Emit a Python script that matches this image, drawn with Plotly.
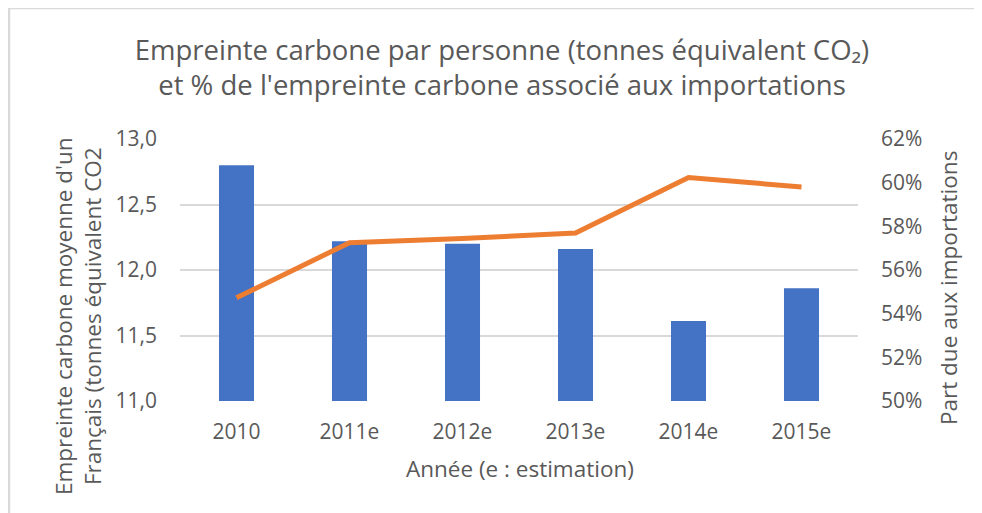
import plotly.graph_objects as go

annees = ["2010", "2011e", "2012e", "2013e", "2014e", "2015e"]
empreinte = [12.80, 12.22, 12.20, 12.16, 11.61, 11.86]
part_importations = [0.5473, 0.5725, 0.5744, 0.5769, 0.6024, 0.5980]

# the page body has an 8px default margin, so the figure is drawn at (8, 8)
W, H = 974, 505
L, R, T, B = 172, 124, 131, 112
pw, ph = W - L - R, H - T - B

FONT = "Open Sans"
GREY = "#595959"


def px(x):
    return (x - L) / pw


def py(y):
    return (H - B - y) / ph


fig = go.Figure()
fig.add_trace(go.Bar(x=annees, y=empreinte, marker=dict(color="#4472C4", line=dict(width=0)),
                     yaxis="y", name="Empreinte"))
fig.add_trace(go.Scatter(x=annees, y=part_importations, mode="lines",
                         line=dict(color="#ED7D31", width=5), yaxis="y2", name="Part"))

fig.update_layout(
    width=W, height=H,
    margin=dict(l=L, r=R, t=T, b=B),
    paper_bgcolor="white", plot_bgcolor="white",
    separators=", ",
    showlegend=False,
    bargap=0.69,
    font=dict(family=FONT, color=GREY, size=21),
    title=dict(
        text="Empreinte carbone par personne (tonnes équivalent CO₂)<br>et % de l'empreinte carbone associé aux importations",
        x=494 / W, xanchor="center", y=1 - 51.5 / H, yanchor="middle",
        font=dict(family=FONT, size=27.5, color=GREY),
    ),
    xaxis=dict(showgrid=False, showline=False, ticks="", tickfont=dict(size=21, color=GREY),
               ticklabelstandoff=16),
    yaxis=dict(range=[11, 13], dtick=0.5, tick0=11, tickformat=".1f", showgrid=True,
               gridcolor="#d9d9d9", gridwidth=1.5, zeroline=False, showline=False, ticks="",
               ticklabelstandoff=22, tickfont=dict(size=21, color=GREY)),
    yaxis2=dict(range=[0.50, 0.62], dtick=0.02, tick0=0.5, tickformat=".0%", overlaying="y",
                side="right", showgrid=False, zeroline=False, showline=False, ticks="",
                ticklabelstandoff=22, tickfont=dict(size=21, color=GREY)),
)

# axis titles (placed as in the reference, off-centre)
fig.add_annotation(text="Année (e : estimation)", xref="paper", yref="paper",
                   x=px(511.5), y=py(460), xanchor="center", yanchor="middle",
                   showarrow=False, font=dict(size=22.5, color=GREY))
fig.add_annotation(text="Empreinte carbone moyenne d'un<br>Français (tonnes équivalent CO2",
                   xref="paper", yref="paper", x=px(70), y=py(308), textangle=-90,
                   xanchor="center", yanchor="middle", showarrow=False,
                   font=dict(size=22.5, color=GREY))
fig.add_annotation(text="Part due aux importations", xref="paper", yref="paper",
                   x=px(940), y=py(280), textangle=-90, xanchor="center", yanchor="middle",
                   showarrow=False, font=dict(size=22.5, color=GREY))

# chart border (Excel style frame)
fig.add_shape(type="rect", xref="paper", yref="paper",
              x0=px(1), x1=px(W + 20), y0=py(H + 20), y1=py(0),
              line=dict(color="#d9d9d9", width=2.5), fillcolor="rgba(0,0,0,0)", layer="below")

fig.write_html("out.html")
